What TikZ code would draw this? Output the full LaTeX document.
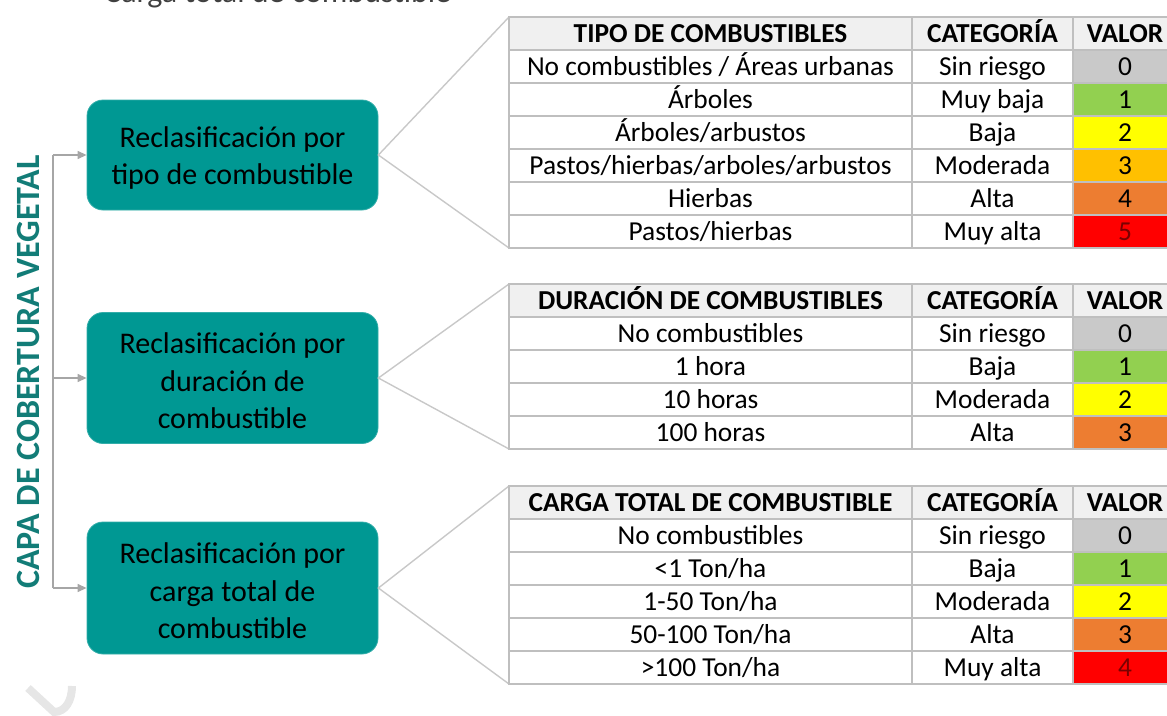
\documentclass[tikz,border=0pt]{standalone}
\usepackage{fontspec}
\setmainfont{Carlito}
\usetikzlibrary{arrows.meta}
\definecolor{boxteal}{HTML}{009893}
\definecolor{titleteal}{HTML}{127C77}
\definecolor{gridgray}{HTML}{BFBFBF}
\definecolor{hdrfill}{HTML}{F0F0F0}
\definecolor{v0}{HTML}{C9C9C9}
\definecolor{v1}{HTML}{92D050}
\definecolor{v2}{HTML}{FFFF00}
\definecolor{v3}{HTML}{FFC000}
\definecolor{v4}{HTML}{ED7D31}
\definecolor{v5}{HTML}{FF0000}
\definecolor{darkred}{HTML}{7A0000}
\definecolor{linegray}{HTML}{A6A6A6}
\definecolor{fangray}{HTML}{C8C8C8}
\definecolor{wmgray}{HTML}{E6E6E6}
\definecolor{toptext}{HTML}{404040}

\tikzset{
  recbox/.style={draw=boxteal!80!white, line width=0.8pt, fill=boxteal, rounded corners=16pt,
    minimum width=291pt, inner sep=0pt},
  boxtext/.style={align=center, text=black, font=\fontsize{30}{37.5}\selectfont, inner sep=0pt},
  cell/.style={anchor=base, inner sep=0pt, font=\fontsize{27.4}{30}\selectfont},
  hdr/.style={anchor=base, inner sep=0pt, font=\fontsize{27.4}{30}\selectfont\bfseries},
  grid/.style={draw=gridgray, line width=1.4pt},
  spine/.style={draw=linegray, line width=1.3pt},
  arr/.style={draw=linegray, line width=1.3pt, -{Triangle[length=9pt,width=8pt]}},
  fan/.style={draw=fangray, line width=1.4pt},
}

\newcommand{\tabhead}[3]{%
  \fill[hdrfill] (509,#2) rectangle (1180,#2+33);
  \draw[grid] (509,#2) rectangle (1180,#2+33) (912,#2) -- (912,#2+33) (1073,#2) -- (1073,#2+33);
  \node[hdr] (#1a) at (710.5,#2+25) {#3};
  \node[hdr] (#1b) at (992.5,#2+25) {CATEGORÍA};
  \node[hdr] (#1c) at (1125,#2+25) {VALOR};
}
\newcommand{\tabrow}[7]{%
  \fill[#6] (1073,#2) rectangle (1180,#2+33);
  \draw[grid] (509,#2) rectangle (1180,#2+33) (912,#2) -- (912,#2+33) (1073,#2) -- (1073,#2+33);
  \node[cell] (#1a) at (710.5,#2+25) {#3};
  \node[cell] (#1b) at (992.5,#2+25) {#4};
  \node[cell, text=#7] (#1c) at (1125,#2+25) {#5};
}

\begin{document}
\begin{tikzpicture}[x=1pt,y=-1pt]
\useasboundingbox (0,0) rectangle (1167,715);
\clip (0,0) rectangle (1167,715);

% cut-off caption line at the top
\node[anchor=base west, inner sep=0pt, text=toptext, font=\fontsize{32}{36}\selectfont] (cap) at (104,2.5) {Carga total de combustible};

% watermark fragment
\draw[wmgray, line width=8pt] (28,688) -- (54,712) .. controls (66,712) and (72,700) .. (72,686);

% vertical title
\node[rotate=90, text=titleteal, font=\fontsize{34}{38}\selectfont\bfseries, inner sep=0pt] (title) at (28,372) {CAPA DE COBERTURA VEGETAL};

% boxes
\node[recbox, minimum height=110pt] (b1) at (232.5,155) {};
\node[recbox, minimum height=131pt] (b2) at (232.5,378) {};
\node[recbox, minimum height=132pt] (b3) at (232.5,588) {};
\node[boxtext] (b1t) at (232.5,158) {Reclasificación por\\tipo de combustible};
\node[boxtext] (b2t) at (232.5,381) {Reclasificación por\\duración de\\combustible};
\node[boxtext] (b3t) at (232.5,591) {Reclasificación por\\carga total de\\combustible};

% spine and arrows
\coordinate (s1) at (53,155);
\coordinate (s2) at (53,378);
\coordinate (s3) at (53,588);
\draw[spine] (s1) -- (s3);
\draw[arr] (s1) -- (b1.west);
\draw[arr] (s2) -- (b2.west);
\draw[arr] (s3) -- (b3.west);

% table corners and fan lines
\coordinate (t1t) at (509,17);  \coordinate (t1b) at (509,248);
\coordinate (t2t) at (509,284); \coordinate (t2b) at (509,449);
\coordinate (t3t) at (509,486); \coordinate (t3b) at (509,684);
\draw[fan] (t1t) -- (b1.east) -- (t1b);
\draw[fan] (t2t) -- (b2.east) -- (t2b);
\draw[fan] (t3t) -- (b3.east) -- (t3b);

% table 1
\tabhead{ah}{17}{TIPO DE COMBUSTIBLES}
\tabrow{ar1}{50}{No combustibles / Áreas urbanas}{Sin riesgo}{0}{v0}{black}
\tabrow{ar2}{83}{Árboles}{Muy baja}{1}{v1}{black}
\tabrow{ar3}{116}{Árboles/arbustos}{Baja}{2}{v2}{black}
\tabrow{ar4}{149}{Pastos/hierbas/arboles/arbustos}{Moderada}{3}{v3}{black}
\tabrow{ar5}{182}{Hierbas}{Alta}{4}{v4}{black}
\tabrow{ar6}{215}{Pastos/hierbas}{Muy alta}{5}{v5}{darkred}

% table 2
\tabhead{bh}{284}{DURACIÓN DE COMBUSTIBLES}
\tabrow{br1}{317}{No combustibles}{Sin riesgo}{0}{v0}{black}
\tabrow{br2}{350}{1 hora}{Baja}{1}{v1}{black}
\tabrow{br3}{383}{10 horas}{Moderada}{2}{v2}{black}
\tabrow{br4}{416}{100 horas}{Alta}{3}{v4}{black}

% table 3
\tabhead{ch}{486}{CARGA TOTAL DE COMBUSTIBLE}
\tabrow{cr1}{519}{No combustibles}{Sin riesgo}{0}{v0}{black}
\tabrow{cr2}{552}{<1 Ton/ha}{Baja}{1}{v1}{black}
\tabrow{cr3}{585}{1-50 Ton/ha}{Moderada}{2}{v2}{black}
\tabrow{cr4}{618}{50-100 Ton/ha}{Alta}{3}{v4}{black}
\tabrow{cr5}{651}{>100 Ton/ha}{Muy alta}{4}{v5}{darkred}
\end{tikzpicture}
\end{document}
